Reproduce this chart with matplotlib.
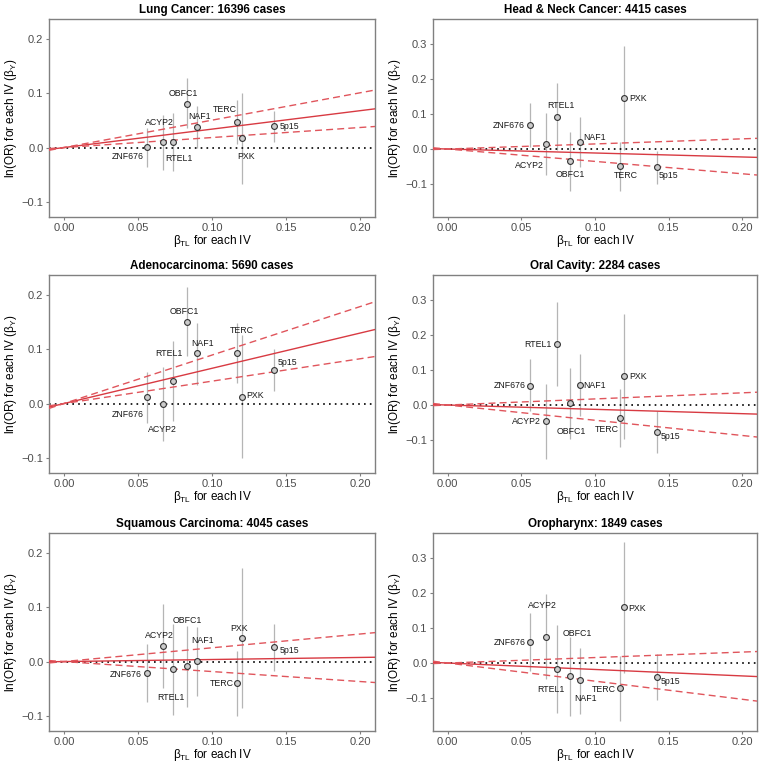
import matplotlib
matplotlib.use("Agg")
import matplotlib.pyplot as plt
import numpy as np
from matplotlib.ticker import FuncFormatter

plt.rcParams['font.family'] = ['Liberation Sans', 'DejaVu Sans']
plt.rcParams['mathtext.fontset'] = 'custom'
plt.rcParams['mathtext.rm'] = 'Liberation Sans'
plt.rcParams['mathtext.it'] = 'Liberation Sans:italic'

genes = ["ZNF676", "ACYP2", "RTEL1", "OBFC1", "NAF1", "TERC", "PXK", "5p15"]
beta_tl = [0.056, 0.067, 0.074, 0.083, 0.090, 0.117, 0.120, 0.142]

# Lung cancer
lung_by = [0.001, 0.010, 0.011, 0.081, 0.037, 0.047, 0.017, 0.040]
lung_lo = [-0.035, -0.041, -0.044, 0.036, -0.001, 0.007, -0.067, 0.011]
lung_hi = [0.036, 0.060, 0.064, 0.128, 0.077, 0.088, 0.101, 0.067]
lung_slope = [0.34, 0.185, 0.505]

# Head & neck cancer
hn_by = [0.069, 0.014, 0.093, -0.035, 0.019, -0.050, 0.147, -0.053]
hn_lo = [0.007, -0.075, -0.003, -0.119, -0.053, -0.121, -0.002, -0.100]
hn_hi = [0.131, 0.103, 0.189, 0.048, 0.091, 0.019, 0.296, -0.007]
hn_slope = [-0.114, -0.355, 0.146]

# Adenocarcinoma
adeno_by = [0.012, 0.000, 0.042, 0.151, 0.093, 0.093, 0.013, 0.062]
adeno_lo = [-0.036, -0.069, -0.032, 0.087, 0.035, 0.038, -0.101, 0.023]
adeno_hi = [0.059, 0.067, 0.116, 0.215, 0.148, 0.148, 0.126, 0.100]
adeno_slope = [0.65, 0.413, 0.894]

# Oral cavity
oral_by = [0.056, -0.047, 0.176, 0.005, 0.058, -0.038, 0.082, -0.078]
oral_lo = [-0.018, -0.155, 0.056, -0.097, -0.031, -0.121, -0.097, -0.137]
oral_hi = [0.131, 0.061, 0.295, 0.106, 0.145, 0.046, 0.261, -0.018]
oral_slope = [-0.124, -0.437, 0.175]

# Squamous carcinoma
sq_by = [-0.021, 0.029, -0.014, -0.008, 0.001, -0.040, 0.044, 0.026]
sq_lo = [-0.075, -0.048, -0.098, -0.083, -0.063, -0.101, -0.085, -0.017]
sq_hi = [0.033, 0.106, 0.070, 0.066, 0.063, 0.020, 0.173, 0.070]
sq_slope = [0.038, -0.184, 0.254]

# Oropharynx
oro_by = [0.059, 0.076, -0.016, -0.037, -0.048, -0.072, 0.160, -0.039]
oro_lo = [-0.024, -0.045, -0.142, -0.152, -0.145, -0.167, -0.029, -0.105]
oro_hi = [0.143, 0.198, 0.108, 0.075, 0.044, 0.019, 0.348, 0.027]
oro_slope = [-0.185, -0.52, 0.157]

titles = ["Lung Cancer: 16396 cases", "Head & Neck Cancer: 4415 cases",
          "Adenocarcinoma: 5690 cases", "Oral Cavity: 2284 cases",
          "Squamous Carcinoma: 4045 cases", "Oropharynx: 1849 cases"]

# label offsets (pixels) per panel
lung_off = [(-19, -9), (-4, 20), (5, -17), (-3, 10), (2, 11), (-12, 13), (4, -18), (15, -1)]
hn_off = [(-21, -1), (-17, -21), (4, 11), (0, -13), (14, 5), (6, -9), (14, -1), (12, -8)]
adeno_off = [(-19, -17), (-1, -26), (-5, 27), (-2, 10), (5, 10), (5, 23), (13, 1), (13, 7)]
oral_off = [(-20, 0), (-20, 0), (-19, -1), (1, -28), (14, -1), (-13, -11), (14, 0), (14, -4)]
sq_off = [(-21, -2), (-4, 10), (-3, -28), (1, 45), (5, 21), (-15, 0), (-3, 9), (15, -3)]
oro_off = [(-20, 0), (-4, 31), (-6, -21), (7, 42), (5, -19), (-16, -1), (13, -1), (14, -5)]

panels = [
    (lung_by, lung_lo, lung_hi, lung_slope, lung_off),
    (hn_by, hn_lo, hn_hi, hn_slope, hn_off),
    (adeno_by, adeno_lo, adeno_hi, adeno_slope, adeno_off),
    (oral_by, oral_lo, oral_hi, oral_slope, oral_off),
    (sq_by, sq_lo, sq_hi, sq_slope, sq_off),
    (oro_by, oro_lo, oro_hi, oro_slope, oro_off),
]

W, H = 760, 763
fig = plt.figure(figsize=(W / 100, H / 100), dpi=100)
cols = [(49, 375), (433, 757)]
rows = [(19, 217), (275, 473), (533, 731)]

fmt2 = FuncFormatter(lambda v, p: f"{v:.2f}".replace("-", "\u2212"))
fmt1 = FuncFormatter(lambda v, p: f"{v:.1f}".replace("-", "\u2212"))

for i, (by, lo, hi, slope, off) in enumerate(panels):
    r, c = divmod(i, 2)
    x0, x1 = cols[c]
    y0, y1 = rows[r]
    ax = fig.add_axes([x0 / W, 1 - y1 / H, (x1 - x0) / W, (y1 - y0) / H])
    ax.set_xlim(-0.01, 0.21)
    if c == 0:
        ax.set_ylim(-0.128, 0.237)
        ax.set_yticks([-0.1, 0.0, 0.1, 0.2])
    else:
        ax.set_ylim(-0.195, 0.373)
        ax.set_yticks([-0.1, 0.0, 0.1, 0.2, 0.3])
    ax.set_xticks([0.0, 0.05, 0.10, 0.15, 0.20])
    ax.xaxis.set_major_formatter(fmt2)
    ax.yaxis.set_major_formatter(fmt1)

    xs = np.array([-0.01, 0.21])
    ax.axhline(0, color='black', ls=(0, (1, 2.5)), lw=1.2, zorder=2)
    ax.plot(xs, slope[0] * xs, color='#d83a42', lw=1.0, zorder=3)
    ax.plot(xs, slope[1] * xs, color='#e0555c', lw=1.0, ls=(0, (5, 3)), zorder=3)
    ax.plot(xs, slope[2] * xs, color='#e0555c', lw=1.0, ls=(0, (5, 3)), zorder=3)

    ax.vlines(beta_tl, lo, hi, color='#b5b5b5', lw=0.9, zorder=1)
    ax.plot(beta_tl, by, 'o', ms=4.2, mfc='#cccccc', mec='#333333', mew=0.8,
            ls='none', zorder=4)
    for g, xv, yv, (dx, dy) in zip(genes, beta_tl, by, off):
        ax.annotate(g, (xv, yv), xytext=(dx, dy), textcoords='offset pixels',
                    ha='center', va='center', fontsize=6.3, color='#1a1a1a')

    for s in ax.spines.values():
        s.set_color('#808080')
        s.set_linewidth(1.0)
    ax.tick_params(length=2.5, width=0.8, color='#808080', labelcolor='#4d4d4d',
                   labelsize=8.0, pad=1.5)
    ax.set_title(titles[i], fontsize=8.4, fontweight='bold', pad=4)
    ax.set_xlabel(r"β$_{\mathrm{TL}}$ for each IV", fontsize=8.5, labelpad=0)
    ax.set_ylabel(r"ln(OR) for each IV (β$_{\mathrm{Y}}$)", fontsize=8.5, labelpad=2)

fig.savefig("out.png", dpi=100)
